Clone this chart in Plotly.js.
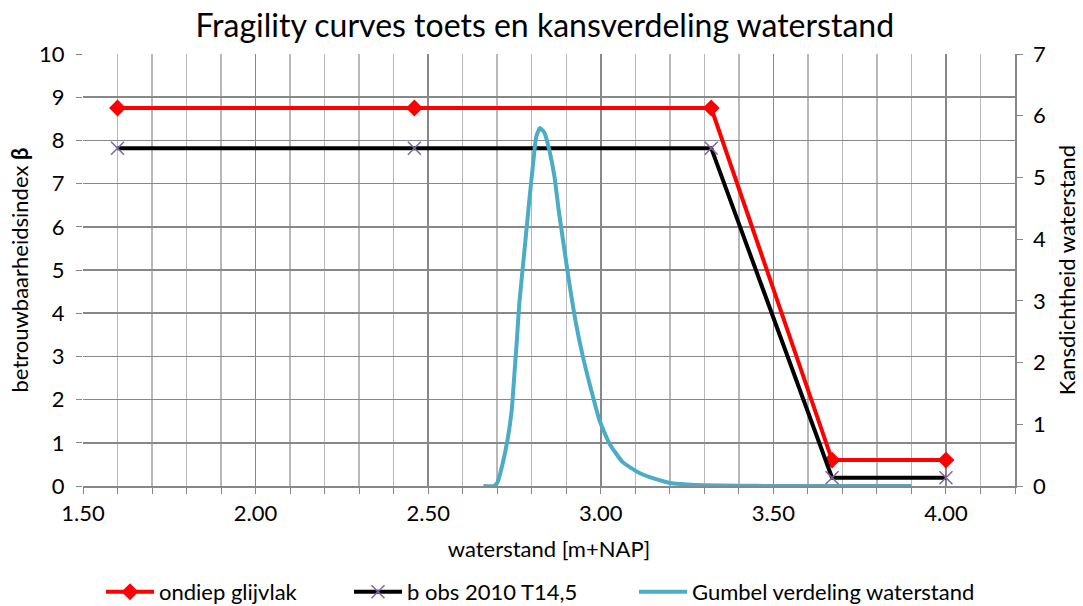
<!DOCTYPE html>
<html>
<head>
<meta charset="utf-8">
<script src="https://cdn.plot.ly/plotly-3.0.1.min.js"></script>
<style>html,body{margin:0;padding:0;background:#fff;}#chart{width:1083px;height:606px;}</style>
</head>
<body>
<div id="chart"></div>
<script>
// Fragility curve: ondiep glijvlak
const ondiepX = [1.60, 2.46, 3.32, 3.67, 4.00];
const ondiepY = [8.75, 8.75, 8.75, 0.60, 0.60];
// Fragility curve: b obs 2010 T14,5
const bobsX = [1.60, 2.46, 3.32, 3.67, 4.00];
const bobsY = [7.82, 7.82, 7.82, 0.19, 0.19];
// Gumbel verdeling waterstand (right axis, density)
const gumbelX = [2.66, 2.69, 2.70, 2.716, 2.730, 2.742, 2.750, 2.757, 2.764, 2.779, 2.793, 2.805, 2.813, 2.824, 2.837, 2.851, 2.866, 2.878, 2.892, 2.909, 2.928, 2.948, 2.972, 2.996, 3.025, 3.063, 3.112, 3.16, 3.20, 3.25, 3.30, 3.40, 3.50, 3.70, 3.90];
const gumbelY = [0.00, 0.00, 0.05, 0.37, 0.75, 1.23, 1.83, 2.37, 2.96, 3.82, 4.63, 5.28, 5.66, 5.80, 5.72, 5.44, 5.01, 4.47, 3.93, 3.28, 2.64, 2.10, 1.56, 1.07, 0.69, 0.39, 0.21, 0.11, 0.05, 0.025, 0.012, 0.004, 0.001, 0.00, 0.00];
// Axis ticks
const xTicks = [1.5, 2.0, 2.5, 3.0, 3.5, 4.0];
const xTickLabels = ["1.50", "2.00", "2.50", "3.00", "3.50", "4.00"];

const FONT = "Lato, 'Open Sans', sans-serif";

const traces = [
  {x: ondiepX, y: ondiepY, name: "ondiep glijvlak", mode: "lines+markers", legend: "legend",
   line: {color: "#FF0000", width: 4}, marker: {symbol: "diamond", size: 13, color: "#FF0000"}, yaxis: "y"},
  {x: bobsX, y: bobsY, name: "b obs 2010 T14,5", mode: "lines+markers", legend: "legend2",
   line: {color: "#000000", width: 4}, marker: {symbol: "x-thin", size: 13, line: {color: "#8064A2", width: 1.5}, color: "#8064A2"}, yaxis: "y"},
  {x: gumbelX, y: gumbelY, name: "Gumbel verdeling waterstand", mode: "lines", legend: "legend3",
   line: {color: "#4BACC6", width: 4, shape: "spline", smoothing: 0.5}, yaxis: "y2"}
];

const legBase = {orientation: "h", xref: "container", yref: "container", xanchor: "left", y: 14 / 606, yanchor: "middle",
                 font: {size: 22, family: FONT, color: "#000"}, itemwidth: 48, bgcolor: "rgba(0,0,0,0)"};

const layout = {
  width: 1083, height: 606,
  margin: {l: 83, r: 68, t: 54, b: 120},
  paper_bgcolor: "#fff", plot_bgcolor: "#fff",
  font: {family: FONT, color: "#000", size: 22},
  title: {text: "Fragility curves toets en kansverdeling waterstand", font: {size: 32, family: FONT, color: "#000"},
          x: 0.503, xanchor: "center", y: 0.958, yanchor: "middle"},
  showlegend: true,
  legend: Object.assign({}, legBase, {x: 101 / 1083}),
  legend2: Object.assign({}, legBase, {x: 349 / 1083}),
  legend3: Object.assign({}, legBase, {x: 634 / 1083}),
  xaxis: {range: [1.5, 4.2], tickvals: xTicks, ticktext: xTickLabels, showgrid: true, gridcolor: "#888888", gridwidth: 1.5,
          ticks: "outside", ticklen: 6, tickcolor: "#888888", showline: true, linecolor: "#888888", linewidth: 1.5,
          zeroline: false, tickfont: {size: 22}, ticklabelstandoff: 1,
          minor: {dtick: 0.1, tick0: 1.5, showgrid: true, gridcolor: "#b8b8b8", gridwidth: 1.5, ticks: "outside", ticklen: 6, tickcolor: "#888888"},
          title: {text: "waterstand [m+NAP]", font: {size: 22}, standoff: 16}},
  yaxis: {range: [0, 10], dtick: 1, showgrid: true, gridcolor: "#888888", gridwidth: 1.5, zeroline: false,
          ticks: "outside", ticklen: 6, tickcolor: "#888888", showline: false, tickfont: {size: 22}, ticklabelstandoff: 7,
          title: {text: "betrouwbaarheidsindex <b>β</b>", font: {size: 22}, standoff: 4}},
  yaxis2: {range: [0, 7], dtick: 1, overlaying: "y", side: "right", showgrid: false, zeroline: false,
           ticks: "outside", ticklen: 6, tickcolor: "#888888", showline: true, linecolor: "#888888", linewidth: 1.5,
           tickfont: {size: 22}, ticklabelstandoff: 6, title: {text: "Kansdichtheid waterstand", font: {size: 22}, standoff: 14}}
};

Plotly.newPlot("chart", traces, layout, {displayModeBar: false, staticPlot: true});
</script>
</body>
</html>
